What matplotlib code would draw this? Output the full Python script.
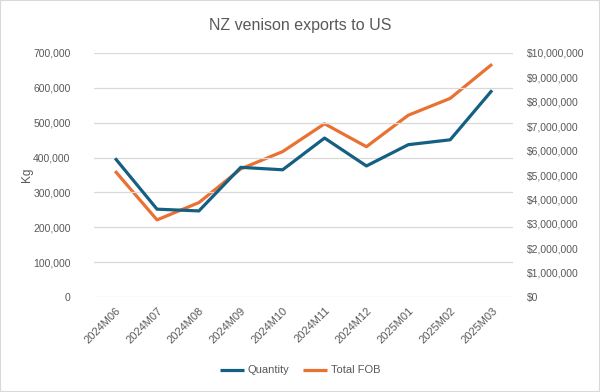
import matplotlib.pyplot as plt
from matplotlib.ticker import FuncFormatter, MultipleLocator
from matplotlib.patches import Rectangle

months = ["2024M06", "2024M07", "2024M08", "2024M09", "2024M10",
          "2024M11", "2024M12", "2025M01", "2025M02", "2025M03"]
quantity_kg = [398000, 252000, 247000, 372000, 365000,
               456000, 376000, 437000, 451000, 593000]
total_fob = [5160000, 3160000, 3870000, 5250000, 5960000,
             7100000, 6160000, 7450000, 8140000, 9540000]

BLUE = "#156082"
ORANGE = "#E97132"
GREY = "#595959"

plt.rcParams["font.family"] = ["Liberation Sans", "DejaVu Sans"]

fig = plt.figure(figsize=(6, 3.92), dpi=100)
fig.patches.append(Rectangle((0, 0), 1, 1, transform=fig.transFigure,
                             fill=False, edgecolor="#d9d9d9", lw=1.5))

ax = fig.add_axes([0.157, 0.2423, 0.698, 0.6225])
ax2 = ax.twinx()

x = range(len(months))
l1, = ax.plot(x, quantity_kg, color=BLUE, lw=2.3, solid_capstyle="butt",
              label="Quantity")
l2, = ax2.plot(x, total_fob, color=ORANGE, lw=2.3, solid_capstyle="butt",
               label="Total FOB")
ax.set_zorder(ax2.get_zorder() + 1)
ax.patch.set_visible(False)

ax.set_xlim(-0.5, len(months) - 0.5)
ax.set_ylim(0, 700000)
ax2.set_ylim(0, 10000000)
ax.yaxis.set_major_locator(MultipleLocator(100000))
ax2.yaxis.set_major_locator(MultipleLocator(1000000))
ax.yaxis.set_major_formatter(FuncFormatter(lambda v, p: f"{v:,.0f}"))
ax2.yaxis.set_major_formatter(FuncFormatter(lambda v, p: f"${v:,.0f}"))

ax.grid(axis="y", color="#d9d9d9", lw=0.9)
ax.set_axisbelow(True)
for a in (ax, ax2):
    for s in a.spines.values():
        s.set_visible(False)
    a.tick_params(length=0, labelsize=7.5, colors=GREY)
ax.tick_params(axis="y", pad=17)
ax2.tick_params(axis="y", pad=10)

ax.set_xticks(list(x))
ax.set_xticklabels(months, rotation=45, ha="right", rotation_mode="anchor")
ax.tick_params(axis="x", pad=6, labelsize=8)

ax.set_ylabel("Kg", color=GREY, fontsize=8.5, labelpad=0)

fig.suptitle("NZ venison exports to US", x=0.5, y=0.955, fontsize=11.5,
             color=GREY)

fig.legend([l1, l2], ["Quantity", "Total FOB"], loc="center",
           bbox_to_anchor=(0.5, 0.055), ncol=2, frameon=False,
           fontsize=8, labelcolor=GREY, handlelength=2.2,
           handletextpad=0.3, columnspacing=1.2)

fig.savefig("out.png", dpi=100)
